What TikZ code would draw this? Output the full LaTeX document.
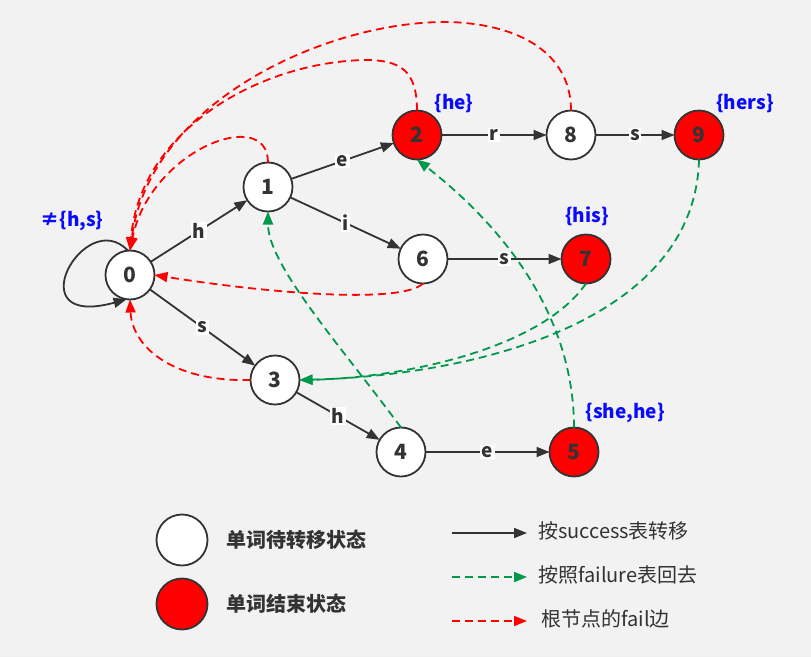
\documentclass[tikz,border=0pt]{standalone}
\usepackage{fontspec}
\setmainfont{Noto Sans CJK SC}
\usetikzlibrary{arrows.meta}
\definecolor{bg}{HTML}{F2F2F2}
\definecolor{dk}{HTML}{333333}
\definecolor{fr}{HTML}{FF0000}
\definecolor{fg}{HTML}{00994C}
\definecolor{lb}{HTML}{0A0AFF}
\begin{document}
\begin{tikzpicture}[x=1pt,y=-1pt,
  state/.style={circle, draw=dk, line width=1.8pt, minimum size=49pt, inner sep=0pt, outer sep=0pt,
    font=\fontsize{21}{21}\selectfont\bfseries, text=dk, fill=white},
  fin/.style={state, fill=fr},
  succ/.style={draw=dk, line width=1.8pt, -{Triangle[length=13pt,width=10pt]}},
  failg/.style={draw=fg, line width=1.8pt, dash pattern=on 8pt off 5pt, -{Triangle[length=13pt,width=10pt]}},
  failr/.style={draw=fr, line width=1.8pt, dash pattern=on 8pt off 5pt, -{Triangle[length=13pt,width=10pt]}},
  elab/.style={fill=white, inner sep=1.5pt, font=\fontsize{19}{19}\selectfont\bfseries, text=dk},
  outlab/.style={text=lb, font=\fontsize{19}{19}\selectfont\bfseries, inner sep=0pt},
  legb/.style={anchor=west, text=dk, font=\fontsize{20}{20}\selectfont\bfseries, inner sep=0pt},
  legr/.style={anchor=west, text=dk, font=\fontsize{20}{20}\selectfont, inner sep=0pt},
]
\fill[bg] (0,0) rectangle (811,657);
\useasboundingbox (0,0) rectangle (811,657);

% states
\node[state] (n0) at (130,275) {0};
\node[state] (n1) at (268,187) {1};
\node[fin]   (n2) at (417,135) {2};
\node[state] (n8) at (571,135) {8};
\node[fin]   (n9) at (699,135) {9};
\node[state] (n6) at (423,259) {6};
\node[fin]   (n7) at (586,259) {7};
\node[state] (n3) at (275,380) {3};
\node[state] (n4) at (401,452) {4};
\node[fin]   (n5) at (574,452) {5};

% output labels
\node[outlab] (o2) at (454,103) {\{he\}};
\node[outlab] (o9) at (745,103) {\{hers\}};
\node[outlab] (o7) at (587,216) {\{his\}};
\node[outlab] (o5) at (625,413) {\{she,he\}};
\node[outlab] (o0) at (72,221) {≠\{h,s\}};

% success edges
\draw[succ] (n0) -- node[elab] {h} (n1);
\draw[succ] (n1) -- node[elab] {e} (n2);
\draw[succ] (n1) -- node[elab] {i} (n6);
\draw[succ] (n2) -- node[elab] {r} (n8);
\draw[succ] (n8) -- node[elab] {s} (n9);
\draw[succ] (n6) -- node[elab] {s} (n7);
\draw[succ] (n0) -- node[elab] {s} (n3);
\draw[succ] (n3) -- node[elab] {h} (n4);
\draw[succ] (n4) -- node[elab] {e} (n5);
\draw[succ] (n0.95) .. controls (85,205) and (15,330) .. (n0.262);

% root fail edges (red)
\draw[failr] (n1.north) .. controls (268,105) and (150,150) .. (n0.north);
\draw[failr] (n2.north) .. controls (417,70) and (400,60) .. (365,60)
   .. controls (260,62) and (140,130) .. (n0.north);
\draw[failr] (n8.north) .. controls (571,60) and (530,25) .. (450,22)
   .. controls (330,20) and (150,100) .. (n0.north);
\draw[failr] (n6.south) .. controls (400,305) and (260,292) .. (n0.east);
\draw[failr] (n3.west) .. controls (170,382) and (132,345) .. (n0.south);

% failure edges (green)
\draw[failg] (n4.north) .. controls (340,345) and (268,265) .. (n1.south);
\draw[failg] (n5.north) .. controls (574,330) and (520,240) .. (n2.south);
\draw[failg] (n7.south) .. controls (540,350) and (400,378) .. (n3.east);
\draw[failg] (n9.south) .. controls (695,320) and (480,375) .. (n3.east);

% legend
\node[state, minimum size=51pt] (lw) at (182,540) {};
\node[fin, minimum size=51pt] (lr) at (182,604) {};
\node[legb] (lt1) at (226,540) {单词待转移状态};
\node[legb] (lt2) at (226,604) {单词结束状态};
\coordinate (a1s) at (452,533); \coordinate (a1e) at (527,533);
\coordinate (a2s) at (452,577); \coordinate (a2e) at (527,577);
\coordinate (a3s) at (452,621); \coordinate (a3e) at (527,621);
\draw[succ] (a1s) -- (a1e);
\draw[failg] (a2s) -- (a2e);
\draw[failr] (a3s) -- (a3e);
\node[legr] (lx1) at (538,531) {按success表转移};
\node[legr] (lx2) at (538,575) {按照failure表回去};
\node[legr] (lx3) at (541,619) {根节点的fail边};
\end{tikzpicture}
\end{document}
